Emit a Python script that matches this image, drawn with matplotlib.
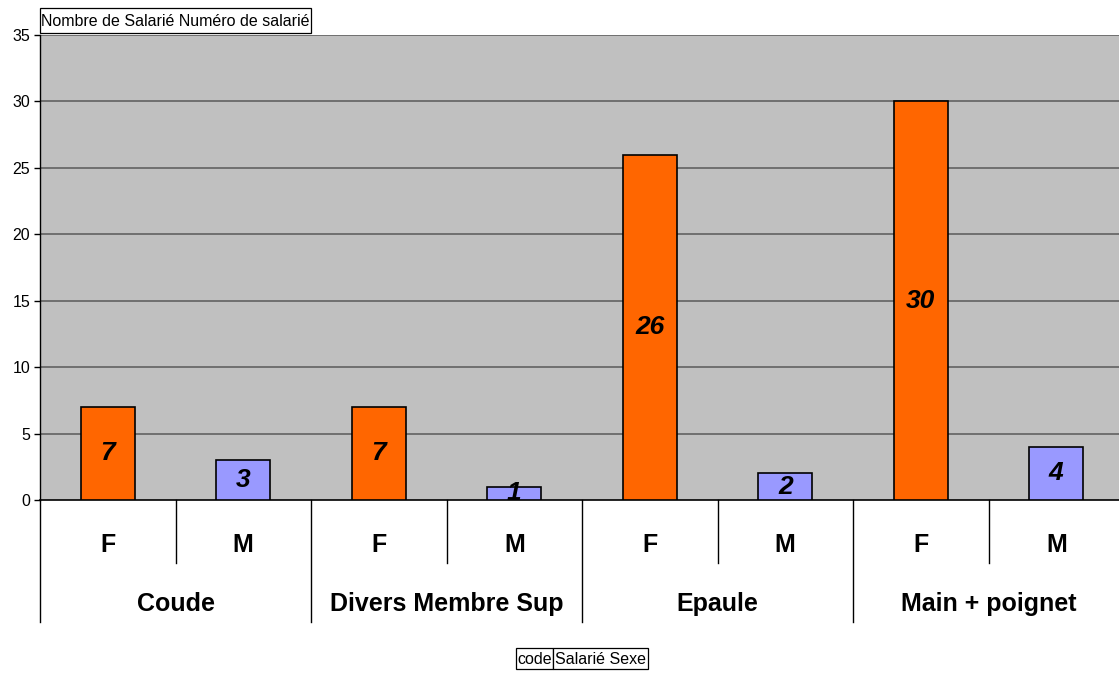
import matplotlib
matplotlib.use("Agg")
import matplotlib.pyplot as plt
from matplotlib.transforms import blended_transform_factory
from matplotlib.patches import Rectangle

groups = ["Coude", "Divers Membre Sup", "Epaule", "Main + poignet"]
sexes = ["F", "M"]
values = [7, 3, 7, 1, 26, 2, 30, 4]
yticks = [0, 5, 10, 15, 20, 25, 30, 35]
title_text = "Nombre de Salarié Numéro de salarié"
axis_fields = ["code", "Salarié Sexe"]

plt.rcParams['font.family'] = ['Liberation Sans', 'DejaVu Sans']

W, H = 1119, 673
fig = plt.figure(figsize=(W / 100, H / 100), dpi=100)
fig.patch.set_facecolor('white')

L, R, T, B = 40, 1124, 35, 500
ax = fig.add_axes([L / W, 1 - B / H, (R - L) / W, (B - T) / H])
ax.set_facecolor('#C0C0C0')

n = len(values)
xs = list(range(n))
colors = ['#FF6600' if i % 2 == 0 else '#9999FF' for i in range(n)]
ax.bar(xs, values, width=0.4, color=colors, edgecolor='black', linewidth=1.2, zorder=3)

ax.set_xlim(-0.5, n - 0.5)
ax.set_ylim(0, 35)
ax.set_yticks(yticks)
ax.set_yticklabels([str(t) for t in yticks], fontsize=11.5)
ax.tick_params(axis='y', length=4, width=1, color='black', pad=3)
ax.set_xticks([])
for yv in yticks[1:]:
    ax.axhline(yv, color='#5a5a5a', linewidth=1.1, zorder=1)
for s in ['top', 'right']:
    ax.spines[s].set_visible(False)
ax.spines['left'].set_color('black')
ax.spines['bottom'].set_color('black')
ax.spines['left'].set_linewidth(1)
ax.spines['bottom'].set_linewidth(1.2)

for x, v in zip(xs, values):
    ax.text(x, v / 2, str(v), ha='center', va='center', fontsize=19,
            fontweight='bold', fontstyle='italic', zorder=4)

tr = blended_transform_factory(ax.transData, fig.transFigure)
def fy(py):
    return 1 - py / H

for i in range(n):
    ax.text(i, fy(545), sexes[i % 2], transform=tr, ha='center', va='center',
            fontsize=18, fontweight='bold')
for i in range(n + 1):
    xb = i - 0.5
    if i % 2 == 0:
        ax.plot([xb, xb], [fy(500), fy(622)], transform=tr, color='black',
                linewidth=1, clip_on=False)
    else:
        ax.plot([xb, xb], [fy(500), fy(563)], transform=tr, color='black',
                linewidth=1, clip_on=False)
for g, name in enumerate(groups):
    ax.text(2 * g + 0.5, fy(604), name, transform=tr, ha='center', va='center',
            fontsize=18, fontweight='bold')

def box(x0, x1, y0, y1, label):
    fig.add_artist(Rectangle((x0 / W, fy(y1)), (x1 - x0) / W, (y1 - y0) / H,
                             transform=fig.transFigure, facecolor='white',
                             edgecolor='black', linewidth=0.9))
    fig.text((x0 + x1) / 2 / W, fy((y0 + y1) / 2 + 0.5), label, ha='center',
             va='center', fontsize=11.5)

box(40, 311, 8, 33, title_text)
box(516, 553, 648, 669, axis_fields[0])
box(553, 648, 648, 669, axis_fields[1])

fig.savefig('out.png', dpi=100)
